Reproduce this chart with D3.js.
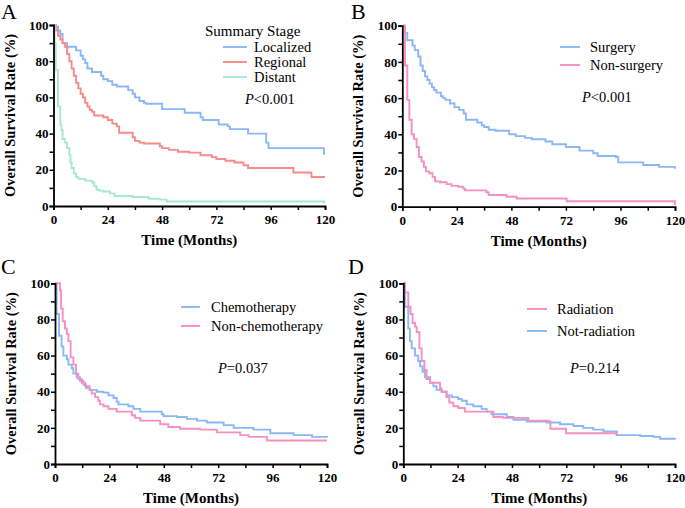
<!DOCTYPE html>
<html><head><meta charset="utf-8">
<script src="https://cdn.jsdelivr.net/npm/d3@7"></script>
<style>body{margin:0;background:#fff}svg{display:block}</style>
</head><body>
<svg id="c" width="685" height="508"></svg>
<script>
// ---------- DATA (time in months, survival in %) ----------
const monthTicks = [0, 24, 48, 72, 96, 120];
const rateTicks = [0, 20, 40, 60, 80, 100];

// Panel A: Summary Stage
const localized = [[0,100],[1,99],[2,97],[3,95],[4,90],[6,88],[10,86],[12,83],[13,81],[14,79],[15,76],[17,74],[21,72],[22,70],[24,69],[26,67],[28,66],[33,64],[35,62],[36,60],[38,58],[40,57],[41,56.5],[48,53.5],[58,51.5],[65,49],[66,47.5],[73,45],[77,44],[78,42.5],[86,40],[94,35],[95,32],[119.5,29],[120,29]];
const regional = [[0,100],[1,97],[2,94],[3,92],[4,90],[5,88],[6,84],[7,80],[8,76],[9,72],[10,68],[11,65],[12,62],[13,60],[14,57],[15,55],[16,53],[17,52],[18,50],[22,49],[24,47.5],[26,45.5],[28,44],[29,40.5],[35,38],[36,36],[38,35],[40,34.5],[47,33],[48,32],[51,31],[55,30],[60,29.5],[65,28],[70,27],[72,26],[76,25],[80,24],[84,22.5],[86,21],[106,18.5],[114,16],[120,16]];
const distant = [[0,100],[0.5,90],[1,75],[2,55],[3,45],[3.5,42],[4,37],[5,35],[6,32],[7,28],[7.5,24],[8,21],[9,18],[10,16],[11,15],[14,14],[17,13],[18,11],[19,9],[20,8.5],[22,8],[25,7],[27,5.5],[35,5],[42,4],[47,3.5],[50,2.5],[119.5,2],[120,2]];

// Panel B: Surgery
const surgery = [[0,100],[1.2,96],[2.2,92],[4.5,89],[5.5,86.5],[7,83],[8,78],[9,75],[10,72],[11,70],[12,68],[13,66],[14,64.5],[15,63],[17,61],[18,60],[19,59],[21,57],[23,55],[25,53.5],[27,51.5],[28,48],[33,46.5],[35,45],[36,44],[38,42.5],[41,42],[47,40],[50,39],[54,38],[57,37.3],[63,36],[66,34.5],[72,33],[78,31],[84,29.5],[86,28],[94,27.5],[95,24.5],[106,23],[113,22],[120,21]];
const nonSurgery = [[0,100],[1.2,78],[2.2,59],[3.1,48],[4.1,40],[5.1,37.5],[6.3,33],[7.3,27.5],[8.5,25],[9.5,22],[10.4,19.5],[11.9,18.5],[13.3,16.5],[14.4,14],[16.6,13.5],[19.5,12.5],[21.7,11.5],[24.6,11],[26.8,10],[27.6,9],[37,8],[38,6.5],[45.9,5.5],[50.3,4.5],[72.3,3],[119.5,3],[120,1]];

// Panel C: Chemotherapy
const chemo = [[0,100],[0.7,83],[1.8,71],[2.9,65],[3.7,60],[5.2,58],[5.9,55],[7.4,53],[8.1,50],[9.6,48],[11,46],[12.5,44],[13.7,42],[15.5,41],[18.4,40],[21.4,39.5],[23.6,38],[25.8,36.5],[27.2,34.5],[28,33],[32.4,32],[34.6,30.5],[37.6,29],[47.1,27.5],[47.9,26.5],[53.8,26],[58.2,25],[62.6,24],[67,23],[74.4,21.5],[78.8,20],[87.6,19],[95,17],[105.3,16],[113.4,15],[120,14.5]];
const nonChemo = [[0,100],[2.2,96],[2.7,86],[3.4,79],[4.4,75],[5.2,72],[5.9,68],[6.9,59],[8.1,55],[9.3,50],[10.3,47],[11.8,45],[13.3,43],[15.2,41],[16.2,39],[17.7,37],[19.1,35],[19.9,33],[21.4,32],[23.6,30.5],[27.2,29],[33.9,27],[35.3,25.5],[37.6,24],[46.4,22],[50,20.5],[55.2,19.5],[64.1,19],[71.4,17.5],[81.7,16],[85.4,15],[93.5,13],[120,13]];

// Panel D: Radiation
const radiation = [[0,100],[0.7,95],[2.2,87],[3.2,83],[4.1,78],[5.2,76],[5.9,73],[7.1,64],[8.1,57],[9.3,52],[10.3,47],[11.8,45],[16.2,42],[16.9,40],[19.1,37],[20.3,34],[22.1,32],[24.3,31],[27.2,29],[39.8,26],[44.2,25.5],[55.2,24],[64.1,23.5],[65,19.5],[71.9,17],[94,16]];
const notRadiation = [[0,100],[0.7,87],[2.2,75],[2.9,68],[3.7,64],[5.2,60],[6.6,57],[7.4,54],[8.5,51],[9.6,48],[11.8,45],[13.3,43],[14.7,41],[16.9,40],[19.1,38],[21.4,37],[24.3,36],[25.8,35],[28,33],[30.9,32],[34.6,30.5],[36.8,29],[39,27.5],[45.7,26],[48.6,24.5],[54.5,23.5],[63.3,23],[69.2,22],[75.1,21],[79.5,20],[83.9,19],[88.4,18],[94.3,16],[104.6,15.5],[110.5,15],[113.4,14],[120,13.5]];

const BLUE = "#8ab8f7", RED = "#f78a8a", GREEN = "#a9e8d0", PINK = "#f78fc0";

const panels = [
  {letter:"A", lx:1, ly:19, x0:53.5, x1:325, y0:206, y1:25,
   series:[{d:localized,c:BLUE,n:"Localized"},{d:regional,c:RED,n:"Regional"},{d:distant,c:GREEN,n:"Distant"}],
   title:"Summary Stage", tx:205, ty:36, legX:223, legY:[47,62,77], legLen:24, textX:254, p:"<0.001", px:245, py:104},
  {letter:"B", lx:351, ly:19, x0:402.3, x1:675, y0:206.7, y1:25.7,
   series:[{d:surgery,c:BLUE,n:"Surgery"},{d:nonSurgery,c:PINK,n:"Non-surgery"}],
   legX:560, legY:[47,65], legLen:20, textX:590, p:"<0.001", px:582, py:102},
  {letter:"C", lx:1, ly:274, x0:55, x1:327, y0:464, y1:283.3,
   series:[{d:chemo,c:BLUE,n:"Chemotherapy"},{d:nonChemo,c:PINK,n:"Non-chemotherapy"}],
   legX:181, legY:[307,326], legLen:19, textX:211, p:"=0.037", px:218, py:373},
  {letter:"D", lx:348, ly:274, x0:403.3, x1:675, y0:464, y1:283.3,
   series:[{d:notRadiation,c:BLUE,n:"Not-radiation",leg:1},{d:radiation,c:PINK,n:"Radiation",leg:0}],
   legX:527, legY:[309,331], legLen:20, textX:557, p:"=0.214", px:570, py:373}
];

const svg = d3.select("#c");
const serif = "'Liberation Serif','Times New Roman',serif";

panels.forEach(P => {
  const g = svg.append("g");
  const x = d3.scaleLinear().domain([0,120]).range([P.x0, P.x1]);
  const y = d3.scaleLinear().domain([0,100]).range([P.y0, P.y1]);

  // curves
  const line = d3.line().x(d => x(d[0])).y(d => y(d[1])).curve(d3.curveStepAfter);
  P.series.forEach(s => {
    g.append("path").attr("d", line(s.d)).attr("fill","none")
      .attr("stroke", s.c).attr("stroke-width", 1.9);
  });

  // axes
  const xAxis = d3.axisBottom(x).tickValues(d3.range(0,121,12)).tickSize(4)
    .tickFormat(d => monthTicks.includes(d) ? d : "");
  const yAxis = d3.axisLeft(y).tickValues(d3.range(0,101,10)).tickSize(4)
    .tickFormat(d => rateTicks.includes(d) ? d : "");
  const gx = g.append("g").attr("transform",`translate(0,${P.y0})`).call(xAxis);
  const gy = g.append("g").attr("transform",`translate(${P.x0},0)`).call(yAxis);
  [gx, gy].forEach(a => {
    a.select(".domain").attr("stroke","#000").attr("stroke-width",1.8);
    a.selectAll(".tick line").attr("stroke","#000").attr("stroke-width",1.5);
    a.selectAll(".tick text").attr("fill","#000").style("font-family",serif)
      .style("font-weight","bold").style("font-size","13px");
  });
  gx.selectAll(".tick text").attr("dy","0.95em").attr("y",6);
  gy.selectAll(".tick text").attr("x",-5);

  // axis titles
  g.append("text").attr("x",(P.x0+P.x1)/2).attr("y",P.y0+39).attr("text-anchor","middle")
    .style("font-family",serif).style("font-weight","bold").style("font-size","15px").text("Time (Months)");
  g.append("text").attr("transform",`translate(${P.x0-39},${(P.y0+P.y1)/2}) rotate(-90)`)
    .attr("text-anchor","middle").style("font-family",serif).style("font-weight","bold")
    .style("font-size","14.5px").text("Overall Survival Rate (%)");

  // panel letter
  g.append("text").attr("x",P.lx).attr("y",P.ly).style("font-family",serif)
    .style("font-size","22px").text(P.letter);

  // legend
  if (P.title) g.append("text").attr("x",P.tx).attr("y",P.ty).style("font-family",serif)
    .style("font-size","15px").text(P.title);
  P.series.forEach((s,i) => {
    const k = s.leg !== undefined ? s.leg : i;
    const ly = P.legY[k];
    g.append("line").attr("x1",P.legX).attr("x2",P.legX+P.legLen).attr("y1",ly).attr("y2",ly)
      .attr("stroke",s.c).attr("stroke-width",1.9);
    g.append("text").attr("x",P.textX).attr("y",ly+5).style("font-family",serif)
      .style("font-size","14.5px").text(s.n);
  });
  const pt = g.append("text").attr("x",P.px).attr("y",P.py).style("font-family",serif).style("font-size","14.5px");
  pt.append("tspan").style("font-style","italic").text("P");
  pt.append("tspan").text(P.p);
});
</script>
</body></html>
